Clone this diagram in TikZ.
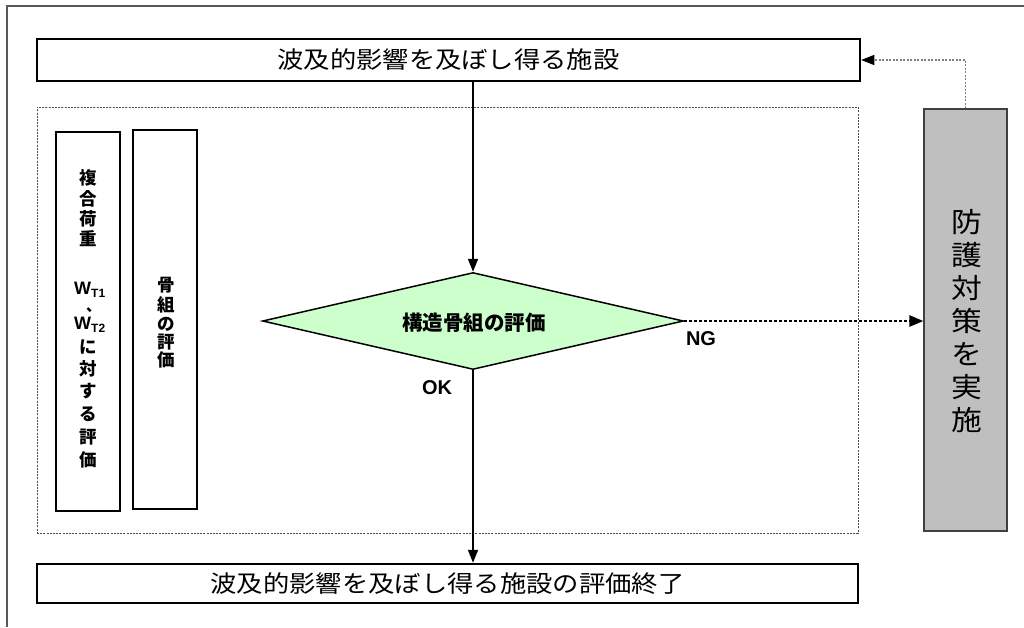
\documentclass[tikz,border=0pt]{standalone}
\usepackage{fontspec}
\setmainfont{Liberation Sans}
\newfontfamily\jp{Noto Sans CJK JP}
\newfontfamily\jpw{Noto Sans CJK JP}[FakeStretch=1.12]
\usetikzlibrary{arrows.meta,shapes.geometric}
\begin{document}
\begin{tikzpicture}[x=1pt,y=-1pt,
  bigbox/.style={draw=black, line width=2.5pt, inner sep=0, minimum width=#1},
  tallbox/.style={draw=black, line width=1.5pt, inner sep=0, minimum width=64pt, minimum height=379pt},
  flow/.style={line width=1.8pt, -{Triangle[width=10pt,length=13pt]}},
  ngflow/.style={line width=2.5pt, dash pattern=on 2.5pt off 2.5pt, -{Triangle[width=11pt,length=14pt]}},
  backflow/.style={line width=1.3pt, draw=gray, dash pattern=on 2pt off 1.5pt, -{Triangle[width=10pt,length=13pt,color=black,fill=black]}},
  lbl/.style={font=\bfseries\fontsize{20}{20}\selectfont, inner sep=0},
  vch/.style={font=\jp\bfseries\fontsize{17.5}{17.5}\selectfont, inner sep=0},
  wsub/.style={font=\bfseries\fontsize{18}{18}\selectfont, inner sep=0, anchor=base west},
  vtext/.style={align=center, inner sep=0},
]
\useasboundingbox (0,0) rectangle (1024,627);
% outer frame
\draw[line width=2pt, draw=black!65] (7,627) -- (7,6) -- (1024,6);

% dashed region
\node[draw=black!70, line width=0.9pt, dash pattern=on 2pt off 1.2pt, minimum width=821pt, minimum height=426pt, inner sep=0] (region) at (447.5,320) {};

% top and bottom boxes
\node[bigbox=823pt, minimum height=42pt, font=\jpw\fontsize{23.5}{23.5}\selectfont] (top) at (448.5,60) {波及的影響を及ぼし得る施設};
\node[bigbox=821pt, minimum height=39pt, font=\jpw\fontsize{23.5}{23.5}\selectfont] (bot) at (447.5,583.5) {波及的影響を及ぼし得る施設の評価終了};

% left tall boxes
\node[tallbox] (box1) at (88,321.5) {};
\node[tallbox] (box2) at (165,319.5) {};
\foreach \ch/\yy [count=\i] in {複/178, 合/199, 荷/219, 重/239, に/347, 対/369, す/391, る/414, 評/437, 価/460}
  \node[vch] (a\i) at (88,\yy) {\ch};
\node[wsub] (w1) at (74,294) {W\raisebox{-3pt}{\fontsize{12}{12}\selectfont T1}};
\node[inner sep=0, anchor=base west, font=\jp\bfseries\fontsize{15}{15}\selectfont] (comma) at (86,311) {、};
\node[wsub] (w2) at (74,329) {W\raisebox{-3pt}{\fontsize{12}{12}\selectfont T2}};
\foreach \ch/\yy [count=\i] in {骨/285, 組/305, の/324, 評/342, 価/360}
  \node[vch] (b\i) at (166,\yy) {\ch};

% gray box
\node[draw=black!75, line width=1.2pt, fill=black!25, minimum width=83pt, minimum height=422pt, inner sep=0] (gray) at (965.5,320) {};
\node[vtext, font=\jpw\fontsize{27.5}{33}\selectfont] (gt) at (967,321.5) {防\\護\\対\\策\\を\\実\\施};

% diamond
\node[diamond, draw=black, line width=1.5pt, fill=green!20!white, minimum width=421pt, minimum height=97pt, inner sep=0] (dia) at (473,321) {};
\node[font=\jp\bfseries\fontsize{20.5}{20.5}\selectfont, inner sep=0] (dt) at (474,323) {構造骨組の評価};

% labels
\node[lbl] (ok) at (437,388) {OK};
\node[lbl] (ng) at (701,339) {NG};

% connectors
\draw[flow] (dia.north |- top.south) -- (dia.north);
\draw[flow] (dia.south) -- (dia.south |- bot.north);
\draw[ngflow] (dia.east) -- (dia.east -| gray.west);
\draw[backflow] (gray.north) |- (top.east);
\end{tikzpicture}
\end{document}
